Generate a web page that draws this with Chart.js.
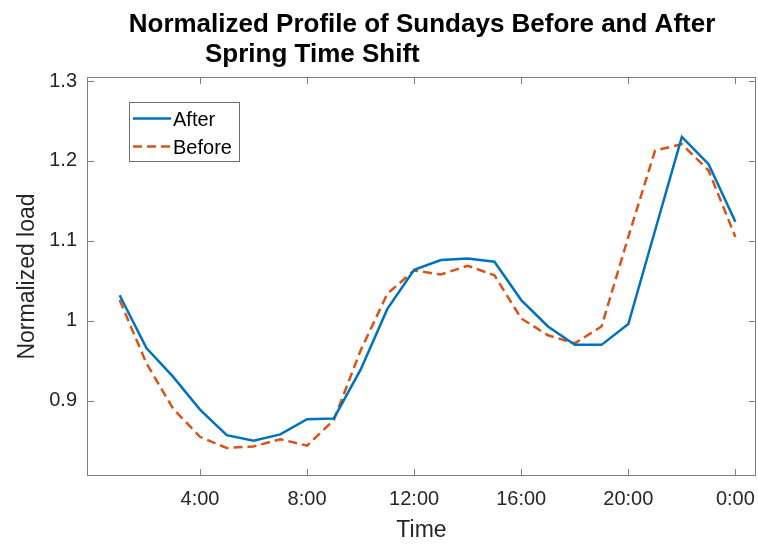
<!DOCTYPE html>
<html lang="en">
<head>
  <meta charset="UTF-8" />
  <title>Normalized Profile of Sundays Before and After Spring Time Shift</title>
  <script src="https://cdn.jsdelivr.net/npm/chart.js"></script>
  <style>
    body {
      margin: 0;
      background: #fff;
    }
    canvas {
      display: block;
    }
  </style>
</head>
<body>
  <canvas id="load-chart" width="758" height="545"></canvas>

  <script>
    // hour of day (24 = midnight)
    const hours = [1, 2, 3, 4, 5, 6, 7, 8, 9, 10, 11, 12, 13, 14, 15, 16, 17, 18, 19, 20, 21, 22, 23, 24];

    const afterLoad = [1.032, 0.966, 0.930, 0.889, 0.857, 0.850, 0.858, 0.877, 0.878, 0.939, 1.015, 1.064,
                       1.076, 1.078, 1.074, 1.026, 0.993, 0.970, 0.970, 0.996, 1.113, 1.230, 1.196, 1.124];
    const beforeLoad = [1.026, 0.947, 0.890, 0.855, 0.841, 0.843, 0.852, 0.844, 0.876, 0.963, 1.034, 1.063,
                        1.058, 1.069, 1.057, 1.003, 0.982, 0.972, 0.993, 1.105, 1.213, 1.221, 1.188, 1.105];

    const xTickValues = [4, 8, 12, 16, 20, 24];
    const xTickLabels = ['4:00', '8:00', '12:00', '16:00', '20:00', '0:00'];
    const yTickValues = [0.9, 1.0, 1.1, 1.2, 1.3];
    const yTickLabels = ['0.9', '1', '1.1', '1.2', '1.3'];

    const FONT = '"Liberation Sans", Arial, Helvetica, sans-serif';
    const BLUE = '#0072BD';
    const ORANGE = '#D95319';
    const AXIS_GRAY = '#7d7d7d';

    function toPoints(values) {
      return hours.map((h, i) => ({ x: h, y: values[i] }));
    }

    // box, inward ticks, legend and the two-line title, MATLAB style
    const matlabFrame = {
      id: 'matlabFrame',
      afterDraw(chart) {
        const ctx = chart.ctx;
        const a = chart.chartArea;
        const xs = chart.scales.x;
        const ys = chart.scales.y;
        const tick = 7;

        ctx.save();
        ctx.strokeStyle = AXIS_GRAY;
        ctx.lineWidth = 1;
        ctx.strokeRect(a.left + 0.5, a.top + 0.5, a.right - a.left - 1, a.bottom - a.top - 1);

        ctx.beginPath();
        xTickValues.forEach(v => {
          const px = Math.round(xs.getPixelForValue(v)) + 0.5;
          ctx.moveTo(px, a.bottom);
          ctx.lineTo(px, a.bottom - tick);
          ctx.moveTo(px, a.top);
          ctx.lineTo(px, a.top + tick);
        });
        yTickValues.forEach(v => {
          const py = Math.round(ys.getPixelForValue(v)) + 0.5;
          ctx.moveTo(a.left, py);
          ctx.lineTo(a.left + tick, py);
          ctx.moveTo(a.right, py);
          ctx.lineTo(a.right - tick, py);
        });
        ctx.stroke();

        // legend
        ctx.fillStyle = '#fff';
        ctx.fillRect(130, 103, 110, 59);
        ctx.strokeStyle = '#6e6e6e';
        ctx.strokeRect(129.5, 102.5, 110, 59);

        ctx.lineWidth = 2.5;
        ctx.strokeStyle = BLUE;
        ctx.beginPath();
        ctx.moveTo(133, 118.5);
        ctx.lineTo(171, 118.5);
        ctx.stroke();

        ctx.strokeStyle = ORANGE;
        ctx.setLineDash([9, 5]);
        ctx.beginPath();
        ctx.moveTo(133, 146.5);
        ctx.lineTo(171, 146.5);
        ctx.stroke();
        ctx.setLineDash([]);

        ctx.fillStyle = '#000';
        ctx.font = '20px ' + FONT;
        ctx.textAlign = 'left';
        ctx.textBaseline = 'alphabetic';
        ctx.fillText('After', 173, 126);
        ctx.fillText('Before', 173, 154);

        // title
        ctx.font = 'bold 26px ' + FONT;
        ctx.textAlign = 'center';
        ctx.fillText('Normalized Profile of Sundays Before and After', 422, 32);
        ctx.textAlign = 'left';
        ctx.fillText('Spring Time Shift', 205, 62);
        ctx.restore();
      }
    };

    const ctx = document.getElementById('load-chart').getContext('2d');

    new Chart(ctx, {
      type: 'line',
      data: {
        datasets: [
          {
            label: 'After',
            data: toPoints(afterLoad),
            borderColor: BLUE,
            borderWidth: 2.5,
            pointRadius: 0,
            tension: 0,
            fill: false
          },
          {
            label: 'Before',
            data: toPoints(beforeLoad),
            borderColor: ORANGE,
            borderWidth: 2.5,
            borderDash: [9, 5],
            pointRadius: 0,
            tension: 0,
            fill: false
          }
        ]
      },
      options: {
        responsive: false,
        animation: false,
        layout: {
          padding: { top: 77, right: 2, left: 0, bottom: 0 }
        },
        plugins: {
          legend: { display: false },
          tooltip: { enabled: false },
          title: { display: false }
        },
        scales: {
          x: {
            type: 'linear',
            min: -0.22,
            max: 24.77,
            afterBuildTicks: scale => {
              scale.ticks = xTickValues.map(v => ({ value: v }));
            },
            afterFit: scale => {
              scale.height = 69;
              // let the "0:00" label hang into the margin instead of shrinking the plot
              scale.paddingLeft = 0;
              scale.paddingRight = 0;
            },
            ticks: {
              autoSkip: false,
              maxRotation: 0,
              padding: 11,
              color: '#262626',
              font: { family: FONT, size: 20 },
              callback: (value) => xTickLabels[xTickValues.indexOf(value)]
            },
            grid: { display: false, drawTicks: false },
            border: { display: false },
            title: {
              display: true,
              text: 'Time',
              color: '#262626',
              font: { family: FONT, size: 23 },
              padding: { top: 0, bottom: 1 }
            }
          },
          y: {
            min: 0.806,
            max: 1.305,
            afterBuildTicks: scale => {
              scale.ticks = yTickValues.map(v => ({ value: v }));
            },
            afterFit: scale => {
              scale.width = 87;
              scale.paddingTop = 0;
              scale.paddingBottom = 0;
            },
            ticks: {
              autoSkip: false,
              padding: 10,
              color: '#262626',
              font: { family: FONT, size: 20 },
              callback: (value) => yTickLabels[yTickValues.findIndex(v => Math.abs(v - value) < 1e-9)]
            },
            grid: { display: false, drawTicks: false },
            border: { display: false },
            title: {
              display: true,
              text: 'Normalized load',
              color: '#262626',
              font: { family: FONT, size: 23 },
              padding: { top: 14, bottom: 0 }
            }
          }
        }
      },
      plugins: [matlabFrame]
    });
  </script>
</body>
</html>
